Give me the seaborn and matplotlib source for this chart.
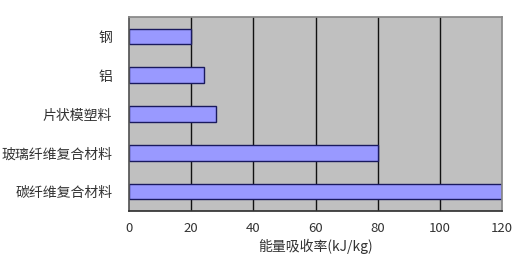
import matplotlib
matplotlib.use("Agg")
import matplotlib.pyplot as plt
import seaborn as sns
import pandas as pd

categories = ["钢", "铝", "片状模塑料", "玻璃纤维复合材料", "碳纤维复合材料"]
values = [20, 24, 28, 80, 120]
xticks = [0, 20, 40, 60, 80, 100, 120]
xlabel = "能量吸收率(kJ/kg)"

sns.set_theme(style="white")
plt.rcParams['font.family'] = ['Noto Sans CJK SC', 'DejaVu Sans']

df = pd.DataFrame({"材料": categories, "值": values})

fig = plt.figure(figsize=(5.28, 2.64), dpi=100)
ax = fig.add_axes([129/528, 1 - 211/264, (502 - 129)/528, (211 - 17)/264])
ax.set_facecolor("#c0c0c0")
sns.barplot(data=df, x="值", y="材料", orient="h", color="#9999ff",
            edgecolor="#1a1a5e", linewidth=1.0, width=0.4, ax=ax, saturation=1)
ax.set_xlim(0, 120)
ax.set_ylim(4.5, -0.5)
ax.set_xticks(xticks)
ax.set_xticklabels([str(t) for t in xticks], fontsize=9.5, color="#333333")
ax.tick_params(axis="y", labelsize=10, colors="#333333", length=0, pad=12)
ax.tick_params(axis="x", length=3, direction="out", color="#222222", pad=5)
for t in xticks[1:-1]:
    ax.axvline(t, color="#111111", linewidth=1.0, zorder=0.5)
ax.set_axisbelow(True)
for s in ["top", "right"]:
    ax.spines[s].set_color("#888888")
ax.spines["left"].set_color("#555555")
ax.spines["bottom"].set_color("#333333")
ax.set_ylabel("")
ax.set_xlabel(xlabel, fontsize=10, color="#333333", labelpad=3)
fig.savefig("out.png", dpi=100)
